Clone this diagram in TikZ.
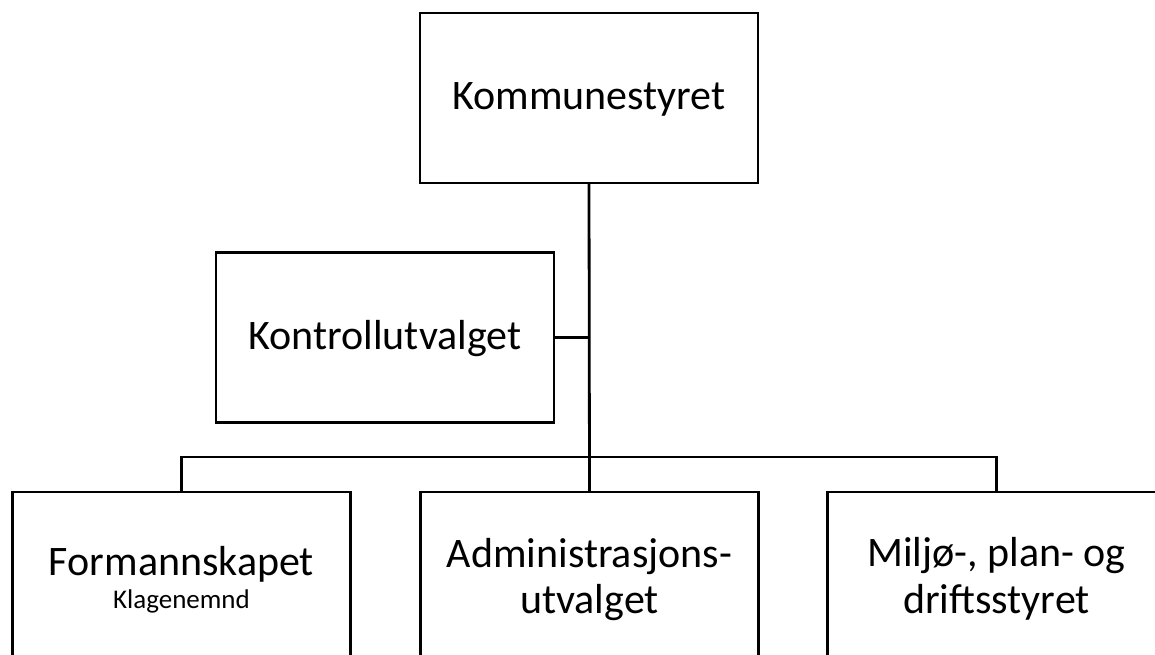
\documentclass[tikz,border=0pt]{standalone}
\usepackage{fontspec}
\setmainfont{Carlito}
\begin{document}
\begin{tikzpicture}[x=1pt,y=-1pt,
  box/.style={draw=black,line width=2.8pt,minimum width=338pt,minimum height=170pt,inner sep=0pt,outer sep=0pt},
  big/.style={font=\fontsize{42}{50}\selectfont,inner sep=0pt,anchor=base},
  small/.style={font=\fontsize{27}{32}\selectfont,inner sep=0pt,anchor=base},
  conn/.style={line width=2.8pt}]
\useasboundingbox (0,0) rectangle (1155,655);
\clip (0,0) rectangle (1155,655);
\fill[white] (0,0) rectangle (1155,655);
% boxes
\node[box] (k) at (589,98) {};
\node[box] (ko) at (385,337.5) {};
\node[box] (f) at (181.5,577) {};
\node[box] (a) at (589.5,577) {};
\node[box] (m) at (996.5,577) {};
% texts
\node[big] (kt) at (589,110) {Kommunestyret};
\node[big] (kot) at (385,349) {Kontrollutvalget};
\node[big] (ft) at (181.5,575) {Formannskapet};
\node[small] (ft2) at (181.5,608) {Klagenemnd};
\node[big] (at1) at (589.5,567) {Administrasjons-};
\node[big] (at2) at (589.5,613) {utvalget};
\node[big] (mt1) at (996.5,566) {Miljø-, plan- og};
\node[big] (mt2) at (996.5,613) {driftsstyret};
% connectors
\coordinate (bus) at (589,457);
\draw[conn] (k.south) -- (a.north);
\draw[conn] (ko.east) -- (ko.east -| k.south);
\draw[conn] (f.north) -- (f.north |- bus) -- (m.north |- bus) -- (m.north);
\end{tikzpicture}
\end{document}
